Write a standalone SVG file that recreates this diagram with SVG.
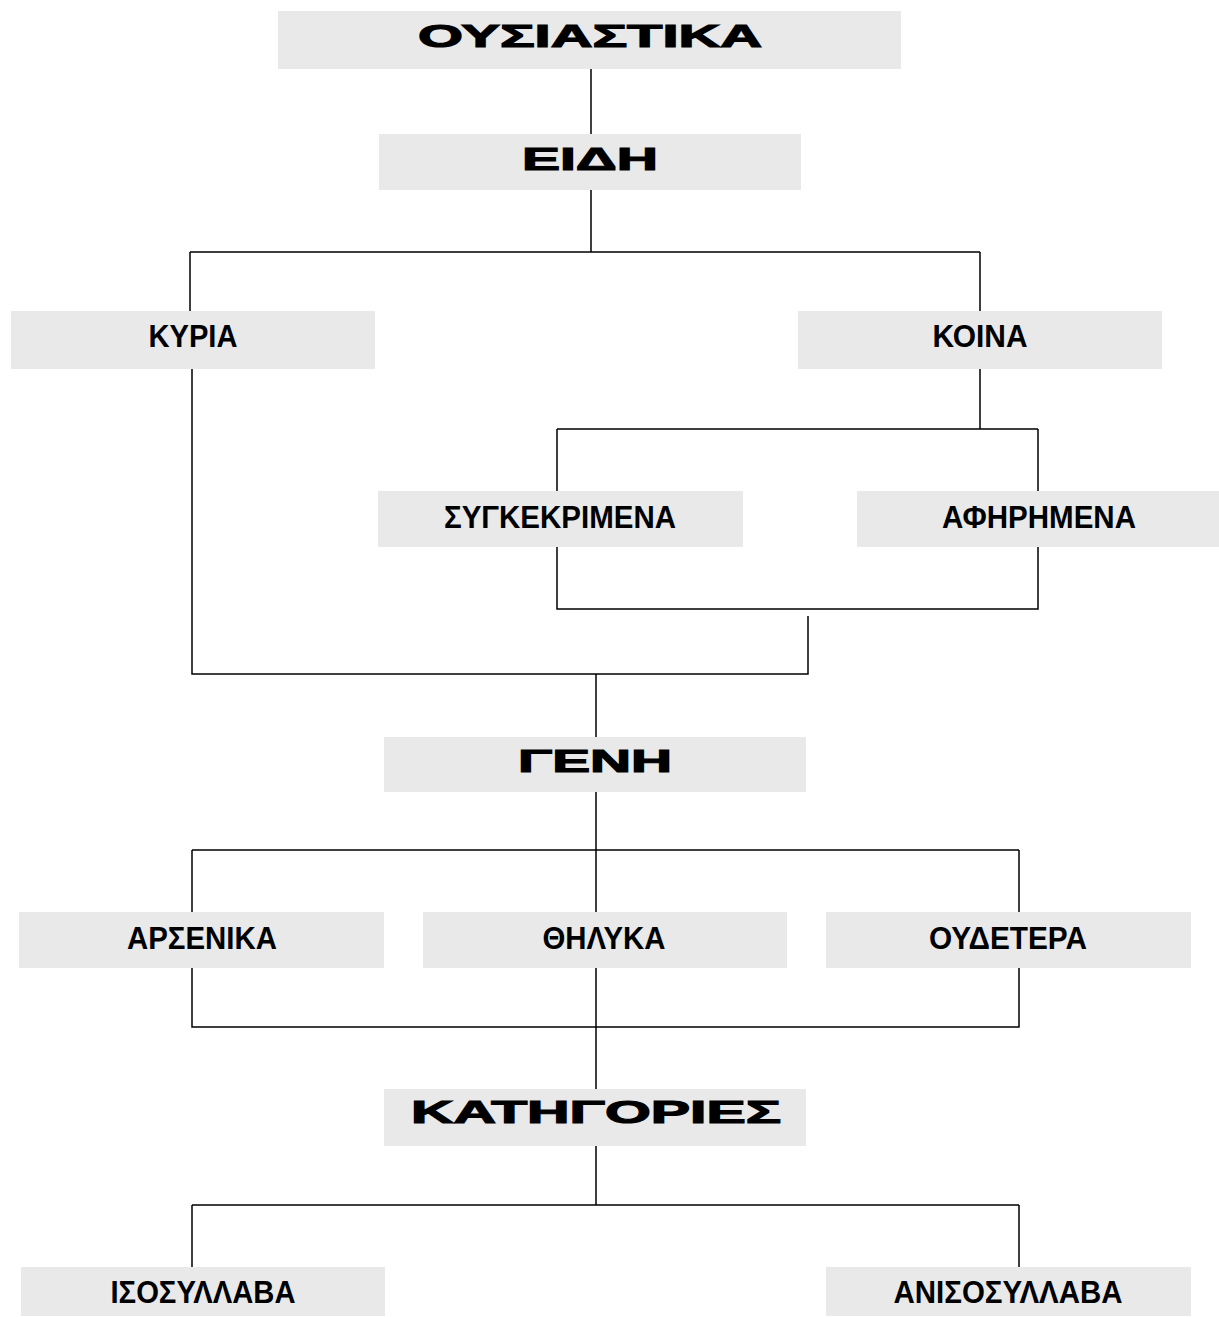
<svg xmlns="http://www.w3.org/2000/svg" width="1219" height="1317" viewBox="0 0 1219 1317">
<style>
.box{fill:#e9e9e9}
.t{font-family:"Liberation Sans",Arial,sans-serif;font-weight:bold;fill:#000;text-anchor:middle}
.big{font-size:32px;stroke:#000;stroke-width:1.2}
.sm{font-size:31px}
.c{stroke:#000;stroke-width:1.5;fill:none}
</style>
<rect width="1219" height="1317" fill="#fff"/>
<g id="connectors" class="c">
<path d="M591 69V134"/>
<path d="M591 190V252M190 252H980M190 252V311M980 252V311"/>
<path d="M980 369V429M557 429H1038M557 429V491M1038 429V491"/>
<path d="M557 547V609H1038V547"/>
<path d="M192 369V674H808V616"/>
<path d="M596 674V737"/>
<path d="M596 792V912M192 850H1019M192 850V912M1019 850V912"/>
<path d="M596 968V1089M192 968V1027H1019V968"/>
<path d="M596 1146V1205M192 1205H1019M192 1205V1267M1019 1205V1267"/>
</g>
<g id="n-ousiastika"><rect class="box" x="278" y="11" width="623" height="58"/><text class="t big" x="590" y="47" textLength="344" lengthAdjust="spacingAndGlyphs">ΟΥΣΙΑΣΤΙΚΑ</text></g>
<g id="n-eidh"><rect class="box" x="379" y="134" width="422" height="56"/><text class="t big" x="590" y="170" textLength="136" lengthAdjust="spacingAndGlyphs">ΕΙΔΗ</text></g>
<g id="n-kyria"><rect class="box" x="11" y="311" width="364" height="58"/><text class="t sm" x="193" y="347" textLength="89" lengthAdjust="spacingAndGlyphs">ΚΥΡΙΑ</text></g>
<g id="n-koina"><rect class="box" x="798" y="311" width="364" height="58"/><text class="t sm" x="980" y="347" textLength="95" lengthAdjust="spacingAndGlyphs">ΚΟΙΝΑ</text></g>
<g id="n-sygkekrimena"><rect class="box" x="378" y="491" width="365" height="56"/><text class="t sm" x="560" y="528" textLength="232" lengthAdjust="spacingAndGlyphs">ΣΥΓΚΕΚΡΙΜΕΝΑ</text></g>
<g id="n-afhrhmena"><rect class="box" x="857" y="491" width="362" height="56"/><text class="t sm" x="1039" y="528" textLength="194" lengthAdjust="spacingAndGlyphs">ΑΦΗΡΗΜΕΝΑ</text></g>
<g id="n-genh"><rect class="box" x="384" y="737" width="422" height="55"/><text class="t big" x="595" y="772" textLength="154" lengthAdjust="spacingAndGlyphs">ΓΕΝΗ</text></g>
<g id="n-arsenika"><rect class="box" x="19" y="912" width="365" height="56"/><text class="t sm" x="202" y="949" textLength="150" lengthAdjust="spacingAndGlyphs">ΑΡΣΕΝΙΚΑ</text></g>
<g id="n-thhlyka"><rect class="box" x="423" y="912" width="364" height="56"/><text class="t sm" x="604" y="949" textLength="123" lengthAdjust="spacingAndGlyphs">ΘΗΛΥΚΑ</text></g>
<g id="n-oudetera"><rect class="box" x="826" y="912" width="365" height="56"/><text class="t sm" x="1008" y="949" textLength="158" lengthAdjust="spacingAndGlyphs">ΟΥΔΕΤΕΡΑ</text></g>
<g id="n-kathgories"><rect class="box" x="384" y="1089" width="422" height="57"/><text class="t big" x="596" y="1123" textLength="370" lengthAdjust="spacingAndGlyphs">ΚΑΤΗΓΟΡΙΕΣ</text></g>
<g id="n-isosyllaba"><rect class="box" x="21" y="1267" width="364" height="49"/><text class="t sm" x="203" y="1303" textLength="185" lengthAdjust="spacingAndGlyphs">ΙΣΟΣΥΛΛΑΒΑ</text></g>
<g id="n-anisosyllaba"><rect class="box" x="826" y="1267" width="365" height="49"/><text class="t sm" x="1008" y="1303" textLength="229" lengthAdjust="spacingAndGlyphs">ΑΝΙΣΟΣΥΛΛΑΒΑ</text></g>
</svg>
